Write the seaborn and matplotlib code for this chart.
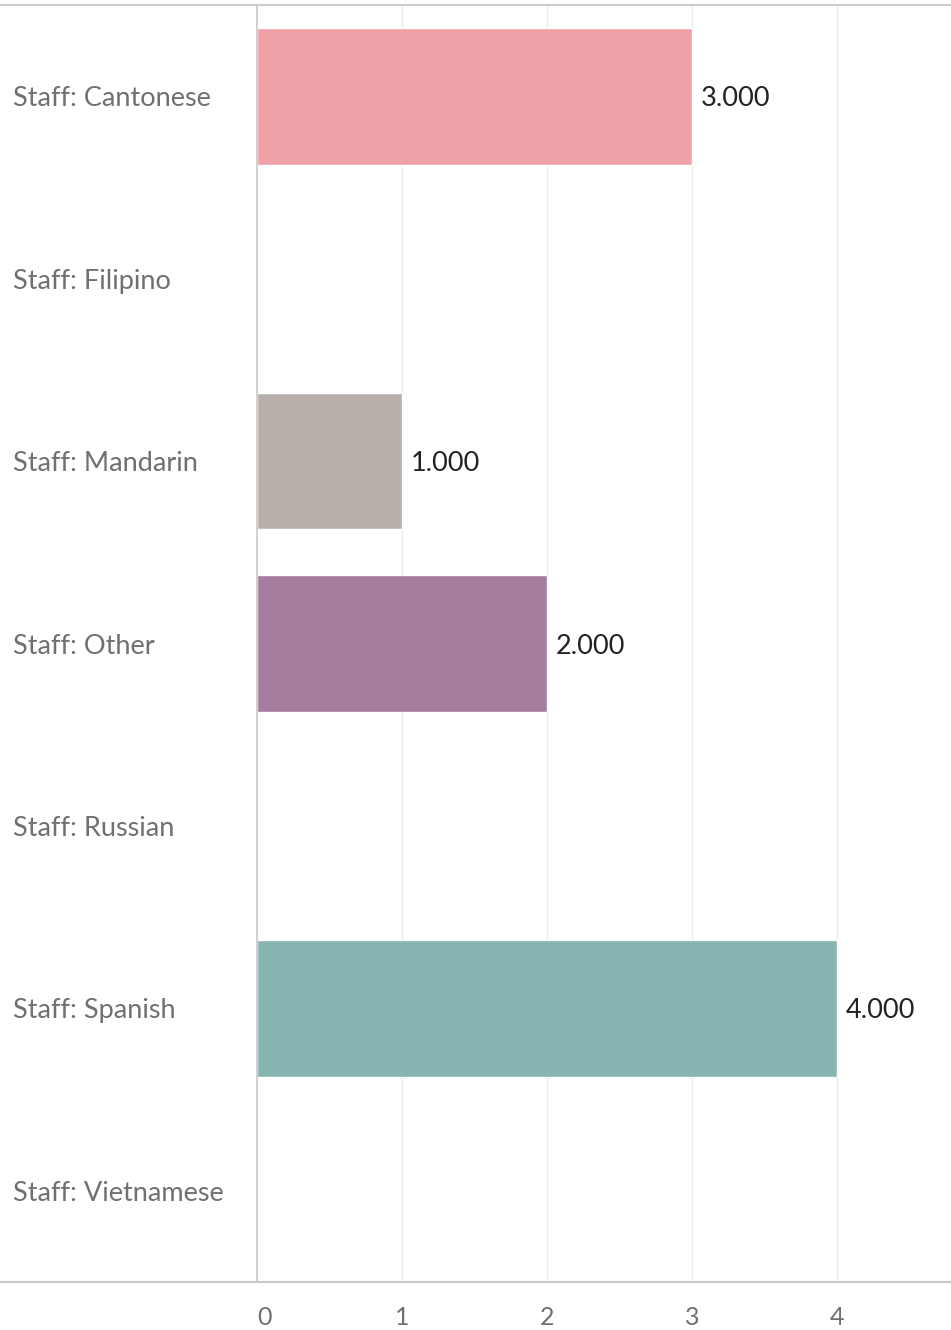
import matplotlib
matplotlib.use('Agg')
import matplotlib.pyplot as plt
from matplotlib.lines import Line2D
from matplotlib.transforms import blended_transform_factory, ScaledTranslation
import numpy as np
import pandas as pd
import seaborn as sns

# Chart data
categories = ['Staff: Cantonese', 'Staff: Filipino', 'Staff: Mandarin', 'Staff: Other',
              'Staff: Russian', 'Staff: Spanish', 'Staff: Vietnamese']
values = [3, np.nan, 1, 2, np.nan, 4, np.nan]
colors = ['#F0A1A7', '#CCCCCC', '#B8AFAB', '#A87C9F', '#CCCCCC', '#86B5B2', '#CCCCCC']
x_ticks = [0, 1, 2, 3, 4]

df = pd.DataFrame({'category': categories, 'value': values})

sns.set_style('white')
plt.rcParams['font.family'] = ['Lato', 'DejaVu Sans']

W, H = 951, 1330
fig = plt.figure(figsize=(W / 100, H / 100), dpi=100)
ax = fig.add_axes([257 / W, 1 - 1282 / H, 1 - 257 / W, (1282 - 5) / H])

sns.barplot(data=df, x='value', y='category', hue='category', orient='h',
            palette=dict(zip(categories, colors)), width=0.75,
            legend=False, ax=ax, saturation=1)

ax.set_xlim(0, (W - 257) / 145)
ax.set_ylim(len(categories) - 0.5, -0.5)
ax.set_xticks(x_ticks)
ax.set_xticklabels([str(t) for t in x_ticks], color='#707070', fontsize=18)
ax.tick_params(axis='x', length=0, pad=17)
ax.tick_params(axis='y', length=0)
ax.set_yticks(range(len(categories)))
ax.set_yticklabels([])
ax.set_xlabel('')
ax.set_ylabel('')
# Tableau nudges the zero label off the axis line
zero_lab = ax.xaxis.get_major_ticks()[0].label1
zero_lab.set_transform(zero_lab.get_transform() + ScaledTranslation(8 / 100, 0, fig.dpi_scale_trans))

for x in x_ticks[1:]:
    ax.axvline(x, color='#EBEBEB', lw=1, zorder=0)

for s in ['top', 'right', 'bottom']:
    ax.spines[s].set_visible(False)
ax.spines['left'].set_color('#C8C8C8')
ax.spines['left'].set_linewidth(1.2)

# category labels on the left
lab_tr = blended_transform_factory(fig.transFigure, ax.transData)
for i, cat in enumerate(categories):
    ax.text(13 / W, i, cat, transform=lab_tr, ha='left', va='center_baseline',
            fontsize=19.5, color='#707070')

# value labels
for i, v in enumerate(values):
    if not np.isnan(v):
        ax.text(v + 0.06, i, f'{v:.3f}', ha='left', va='center_baseline',
                fontsize=19.5, color='#222222')

# full-width top and bottom rules
fig.add_artist(Line2D([0, 1], [1 - 5 / H, 1 - 5 / H], transform=fig.transFigure,
                      color='#CCCCCC', lw=1.5))
fig.add_artist(Line2D([0, 1], [1 - 1282 / H, 1 - 1282 / H], transform=fig.transFigure,
                      color='#C8C8C8', lw=1.5))

fig.savefig('out.png', dpi=100)
